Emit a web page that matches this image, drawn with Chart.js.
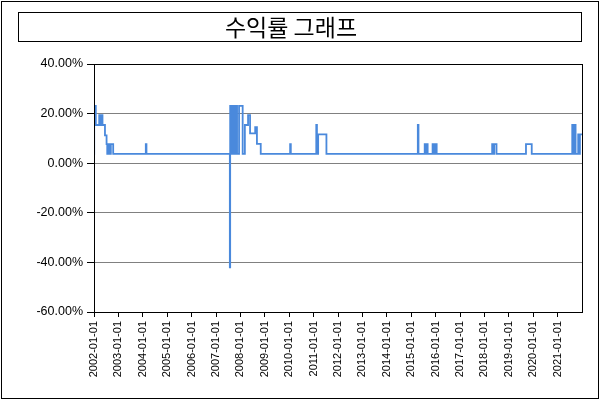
<!DOCTYPE html>
<html>
<head>
<meta charset="utf-8">
<script src="https://cdn.jsdelivr.net/npm/chart.js@4"></script>
<style>
  html, body { margin: 0; padding: 0; background: #ffffff; }
  #wrap { width: 600px; height: 400px; position: relative; }
</style>
</head>
<body>
<div id="wrap"><canvas id="c" width="600" height="400"></canvas></div>
<script>
const chartTitle = '수익률 그래프';
// change points (value holds until next date)
const dates = [
  '2002-01-01','2002-01-04','2002-01-28','2002-03-20','2002-04-02','2002-04-20','2002-05-08',
  '2002-06-14','2002-07-08','2002-07-18','2002-07-26','2002-08-05','2002-08-12','2002-08-22',
  '2002-08-30','2002-09-06','2002-09-10','2002-10-15',
  '2004-02-15','2004-02-25',
  '2007-07-27','2007-08-01','2007-08-08','2007-08-12','2007-08-20','2007-09-08','2007-09-22',
  '2007-10-08','2007-10-18','2007-10-24','2007-11-02','2007-11-06','2007-11-12','2007-12-12',
  '2008-02-04','2008-03-08','2008-04-25','2008-05-25','2008-08-10','2008-09-05','2008-11-01',
  '2010-01-15','2010-01-25',
  '2011-02-10','2011-02-20','2011-03-10','2011-07-12',
  '2015-04-10','2015-04-20','2015-07-22','2015-08-10','2015-08-20','2015-09-04',
  '2015-11-17','2015-12-01','2015-12-08','2015-12-25','2016-01-01','2016-01-17',
  '2018-04-27','2018-05-20','2018-05-28','2018-07-01',
  '2019-09-15','2019-12-10',
  '2021-08-08','2021-08-25','2021-09-05','2021-09-27','2021-11-05','2021-11-20','2021-12-01','2021-12-31'
];
const returns = [
  3.8, 23.1, 15.4, 19.4, 15.4, 19.4, 15.4,
  11.2, 7.7, 3.8, 7.7, 3.8, 7.7, 3.8,
  7.7, 3.8, 7.7, 3.8,
  7.7, 3.8,
  -42, 23.1, 3.8, 23.1, 3.8, 23.1, 3.8,
  23.1, 3.8, 23.1, 3.8, 23.1, 3.8, 23.1,
  3.8, 15.4, 19.4, 12.0, 14.5, 7.8, 3.8,
  7.7, 3.8,
  15.4, 3.8, 11.65, 3.8,
  15.4, 3.8, 7.7, 3.8, 7.7, 3.8,
  7.7, 3.8, 7.7, 3.8, 7.7, 3.8,
  7.7, 3.8, 7.7, 3.8,
  7.7, 3.8,
  15.4, 3.8, 15.4, 3.8, 11.65, 3.8, 11.65, 11.65
];
const xStartYear = 2002;
const xEndYear = 2022;
const yTicks = [-60, -40, -20, 0, 20, 40];

function toYear(s) {
  const p = s.split('-').map(Number);
  const a = Date.UTC(p[0], 0, 1), b = Date.UTC(p[0] + 1, 0, 1);
  return p[0] + (Date.UTC(p[0], p[1] - 1, p[2]) - a) / (b - a);
}
const points = dates.map((d, i) => ({ x: toYear(d), y: returns[i] }));

const framePlugin = {
  id: 'frames',
  afterDraw(chart) {
    const ctx = chart.ctx;
    const ca = chart.chartArea;
    ctx.save();
    ctx.strokeStyle = '#000000';
    ctx.lineWidth = 1;
    // outer border
    ctx.strokeRect(1.5, 1.5, 597, 397);
    // title box
    ctx.strokeRect(18.5, 12.5, 563, 29);
    // plot frame
    ctx.strokeRect(Math.round(ca.left) + 0.5, Math.round(ca.top) + 0.5, Math.round(ca.right - ca.left), Math.round(ca.bottom - ca.top));
    ctx.restore();
  }
};

new Chart(document.getElementById('c'), {
  type: 'line',
  data: {
    datasets: [{
      label: '수익률',
      data: points,
      borderColor: '#4a89dc',
      borderWidth: 1.8,
      pointRadius: 0,
      fill: false,
      stepped: true,
      tension: 0
    }]
  },
  options: {
    responsive: false,
    devicePixelRatio: 1,
    animation: false,
    layout: { padding: { left: 0, right: 18, top: 0, bottom: 0 } },
    plugins: {
      legend: { display: false },
      tooltip: { enabled: false },
      title: {
        display: true,
        text: chartTitle,
        color: '#000000',
        font: { family: "'Noto Sans CJK KR', 'Noto Sans', sans-serif", size: 23, weight: 'normal', lineHeight: 1.2 },
        padding: { top: 13, bottom: 23.4 }
      }
    },
    scales: {
      x: {
        type: 'linear',
        min: xStartYear,
        max: xEndYear,
        afterFit(scale) { scale.height = 88; },
        afterBuildTicks(scale) {
          scale.ticks = scale.ticks.filter(t => Number.isInteger(t.value) && t.value < xEndYear);
        },
        grid: { drawOnChartArea: false, drawTicks: true, tickLength: 5, tickColor: '#000000' },
        border: { display: true, color: '#000000' },
        ticks: {
          stepSize: 1,
          autoSkip: false,
          includeBounds: false,
          minRotation: 90,
          maxRotation: 90,
          padding: 4,
          color: '#000000',
          font: { family: "'Liberation Sans', Arial, sans-serif", size: 11 },
          callback: v => v + '-01-01'
        }
      },
      y: {
        type: 'linear',
        min: yTicks[0],
        max: yTicks[yTicks.length - 1],
        afterFit(scale) { scale.width = 94; },
        afterBuildTicks(scale) { scale.ticks = yTicks.map(v => ({ value: v })); },
        grid: {
          color: ctx => (ctx.tick && (ctx.tick.value === 40 || ctx.tick.value === -60)) ? '#000000' : '#808080',
          tickColor: '#000000',
          tickLength: 7,
          lineWidth: 1
        },
        border: { display: true, color: '#000000' },
        ticks: {
          padding: 4,
          color: '#000000',
          font: { family: "'Liberation Sans', Arial, sans-serif", size: 12.5 },
          callback: v => v.toFixed(2) + '%'
        }
      }
    }
  },
  plugins: [framePlugin]
});
</script>
</body>
</html>
